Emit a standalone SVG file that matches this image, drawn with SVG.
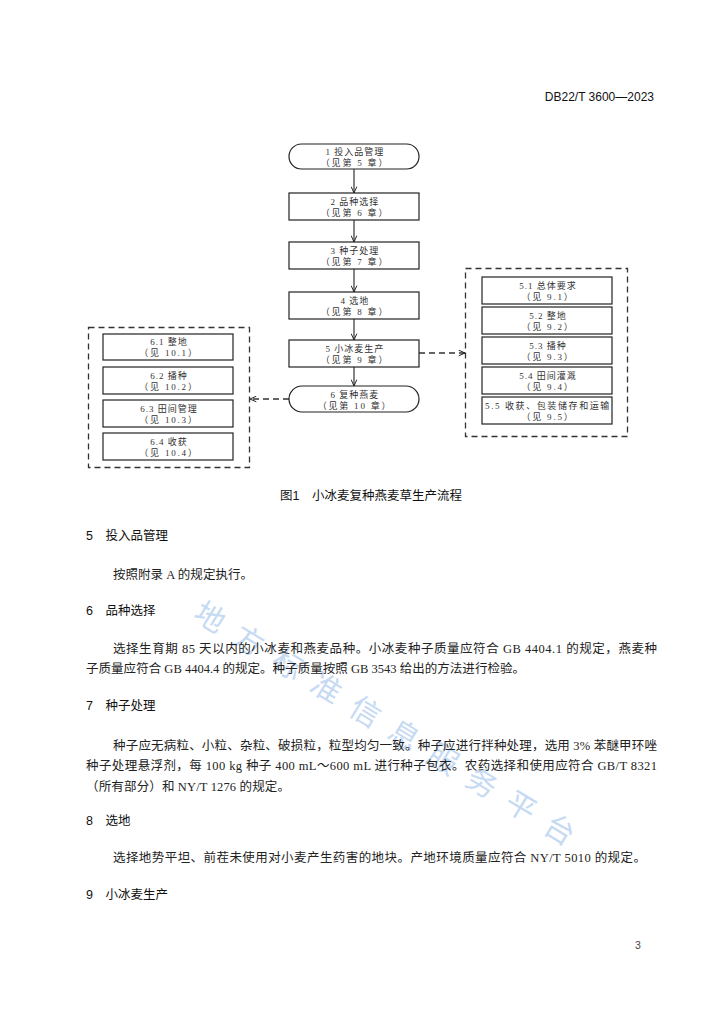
<svg xmlns="http://www.w3.org/2000/svg" width="724" height="1024" viewBox="0 0 724 1024">
<defs>
<marker id="arr" viewBox="0 0 10 10" refX="10" refY="5" markerWidth="7" markerHeight="7" orient="auto" markerUnits="userSpaceOnUse">
<path d="M1,1 L10,5 L1,9" fill="none" stroke="#222" stroke-width="1.4"/>
</marker>
<style>
.box{fill:#fff;stroke:#222;stroke-width:1.2}
.cont{fill:none;stroke:#333;stroke-width:1.3;stroke-dasharray:6,4}
.bt{font-family:"Liberation Serif","Noto Sans CJK SC",serif;font-size:9px;fill:#333;text-anchor:middle;letter-spacing:1px}
.bt2{letter-spacing:1.8px}
.ln{stroke:#222;stroke-width:1.1;fill:none}
.dl{stroke:#333;stroke-width:1.3;fill:none;stroke-dasharray:6,4}
.body{font-family:"Liberation Serif","Noto Sans CJK SC",serif;font-size:12.5px;fill:#222}
.head{font-family:"Liberation Sans","Noto Sans CJK SC",sans-serif;font-size:12.5px;fill:#111}
.wm{font-family:"Noto Sans CJK SC",sans-serif;font-size:30px;fill:#c6daf3}
</style>
</defs>
<rect width="724" height="1024" fill="#fff"/>

<text x="654" y="101" font-family="Liberation Sans,Noto Sans CJK SC,sans-serif" font-size="12" fill="#111" text-anchor="end">DB22/T 3600—2023</text>

<!-- containers -->
<g id="container-right"><rect class="cont" x="465.5" y="268.5" width="162" height="168"/></g>
<g id="container-left"><rect class="cont" x="88.5" y="327.5" width="161" height="140"/></g>

<!-- connectors -->
<g id="connectors">
<line class="ln" x1="354" y1="169" x2="354" y2="193" marker-end="url(#arr)"/>
<line class="ln" x1="354" y1="220" x2="354" y2="242" marker-end="url(#arr)"/>
<line class="ln" x1="354" y1="269" x2="354" y2="292" marker-end="url(#arr)"/>
<line class="ln" x1="354" y1="319" x2="354" y2="340" marker-end="url(#arr)"/>
<line class="ln" x1="354" y1="367" x2="354" y2="386" marker-end="url(#arr)"/>
<line class="dl" x1="419" y1="353" x2="465" y2="353" marker-end="url(#arr)"/>
<line class="dl" x1="289" y1="399" x2="250" y2="399" marker-end="url(#arr)"/>
</g>

<!-- main column -->
<g id="n1"><rect class="box" x="289" y="144" width="130" height="25" rx="12.5"/>
<text class="bt" x="355" y="155">1 投入品管理</text><text class="bt bt2" x="355" y="166">（见第 5 章）</text></g>
<g id="n2"><rect class="box" x="289" y="193" width="130" height="27"/>
<text class="bt" x="355" y="205">2 品种选择</text><text class="bt bt2" x="355" y="216">（见第 6 章）</text></g>
<g id="n3"><rect class="box" x="289" y="242" width="130" height="27"/>
<text class="bt" x="355" y="254">3 种子处理</text><text class="bt bt2" x="355" y="265">（见第 7 章）</text></g>
<g id="n4"><rect class="box" x="289" y="292" width="130" height="27"/>
<text class="bt" x="355" y="304">4 选地</text><text class="bt bt2" x="355" y="315">（见第 8 章）</text></g>
<g id="n5"><rect class="box" x="289" y="340" width="130" height="27"/>
<text class="bt" x="355" y="352">5 小冰麦生产</text><text class="bt bt2" x="355" y="363">（见第 9 章）</text></g>
<g id="n6"><rect class="box" x="289" y="386" width="130" height="26" rx="13"/>
<text class="bt" x="355" y="398">6 复种燕麦</text><text class="bt bt2" x="355" y="409">（见第 10 章）</text></g>

<!-- right group -->
<g id="n5-1"><rect class="box" x="482" y="277" width="130" height="27"/>
<text class="bt" x="548" y="289">5.1 总体要求</text><text class="bt bt2" x="548" y="300">（见 9.1）</text></g>
<g id="n5-2"><rect class="box" x="482" y="307" width="130" height="27"/>
<text class="bt" x="548" y="319">5.2 整地</text><text class="bt bt2" x="548" y="330">（见 9.2）</text></g>
<g id="n5-3"><rect class="box" x="482" y="337" width="130" height="27"/>
<text class="bt" x="548" y="349">5.3 播种</text><text class="bt bt2" x="548" y="360">（见 9.3）</text></g>
<g id="n5-4"><rect class="box" x="482" y="367" width="130" height="27"/>
<text class="bt" x="548" y="379">5.4 田间灌溉</text><text class="bt bt2" x="548" y="390">（见 9.4）</text></g>
<g id="n5-5"><rect class="box" x="482" y="397" width="130" height="27"/>
<text class="bt" x="548" y="409" style="letter-spacing:1.6px">5.5 收获、包装储存和运输</text><text class="bt bt2" x="548" y="420">（见 9.5）</text></g>

<!-- left group -->
<g id="n6-1"><rect class="box" x="103" y="334" width="130" height="26"/>
<text class="bt" x="169" y="345">6.1 整地</text><text class="bt bt2" x="169" y="356">（见 10.1）</text></g>
<g id="n6-2"><rect class="box" x="103" y="367" width="130" height="27"/>
<text class="bt" x="169" y="379">6.2 播种</text><text class="bt bt2" x="169" y="390">（见 10.2）</text></g>
<g id="n6-3"><rect class="box" x="103" y="400" width="130" height="27"/>
<text class="bt" x="169" y="412">6.3 田间管理</text><text class="bt bt2" x="169" y="423">（见 10.3）</text></g>
<g id="n6-4"><rect class="box" x="103" y="433" width="130" height="27"/>
<text class="bt" x="169" y="445">6.4 收获</text><text class="bt bt2" x="169" y="456">（见 10.4）</text></g>

<text class="head" x="280" y="500">图1　小冰麦复种燕麦草生产流程</text>

<!-- watermark -->
<text class="wm" transform="translate(210,617) rotate(31.3)" x="-15" y="11" letter-spacing="15.5">地方标准信息服务平台</text>

<text class="head" x="86" y="540">5　投入品管理</text>
<text class="body" x="113" y="579" textLength="140" lengthAdjust="spacing">按照附录 A 的规定执行。</text>

<text class="head" x="86" y="615">6　品种选择</text>
<text class="body" x="113" y="653" textLength="544" lengthAdjust="spacing">选择生育期 85 天以内的小冰麦和燕麦品种。小冰麦种子质量应符合 GB 4404.1 的规定，燕麦种</text>
<text class="body" x="86" y="673" textLength="439" lengthAdjust="spacing">子质量应符合 GB 4404.4 的规定。种子质量按照 GB 3543 给出的方法进行检验。</text>

<text class="head" x="86" y="710">7　种子处理</text>
<text class="body" x="113" y="750" textLength="544" lengthAdjust="spacing">种子应无病粒、小粒、杂粒、破损粒，粒型均匀一致。种子应进行拌种处理，选用 3% 苯醚甲环唑</text>
<text class="body" x="86" y="770" textLength="571" lengthAdjust="spacing">种子处理悬浮剂，每 100 kg 种子 400 mL～600 mL 进行种子包衣。农药选择和使用应符合 GB/T 8321</text>
<text class="body" x="86" y="791" textLength="204" lengthAdjust="spacing">（所有部分）和 NY/T 1276 的规定。</text>

<text class="head" x="86" y="825">8　选地</text>
<text class="body" x="113" y="862" textLength="533" lengthAdjust="spacing">选择地势平坦、前茬未使用对小麦产生药害的地块。产地环境质量应符合 NY/T 5010 的规定。</text>

<text class="head" x="86" y="899">9　小冰麦生产</text>

<text x="638" y="949" font-family="Liberation Sans,sans-serif" font-size="10.5" fill="#444" text-anchor="middle">3</text>
</svg>
